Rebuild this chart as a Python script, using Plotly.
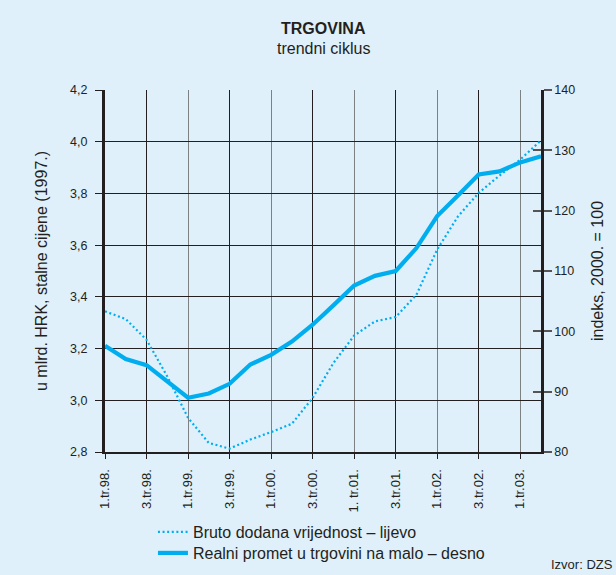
import plotly.graph_objects as go

# Quarters 1.tr.98 .. 2.tr.03
quarters = [f"{q}.tr.{y:02d}." for y in [98, 99, 0, 1, 2, 3] for q in [1, 2, 3, 4]][:22]
tick_labels = ["1.tr.98.", "3.tr.98.", "1.tr.99.", "3.tr.99.", "1.tr.00.", "3.tr.00.",
               "1. tr.01.", "3.tr.01.", "1.tr.02.", "3.tr.02.", "1.tr.03."]
tick_positions = [quarters[i] for i in range(0, 22, 2)]

bruto = [3.344, 3.314, 3.234, 3.092, 2.932, 2.835, 2.813, 2.848, 2.877, 2.909, 3.009,
         3.144, 3.250, 3.305, 3.322, 3.408, 3.583, 3.711, 3.802, 3.869, 3.931, 4.005]
promet = [97.6, 95.4, 94.4, 91.7, 89.0, 89.7, 91.3, 94.5, 96.1, 98.3, 101.1,
          104.3, 107.6, 109.2, 110.0, 113.8, 119.1, 122.5, 126.0, 126.5, 128.0, 129.0]

name_bruto = "Bruto dodana vrijednost – lijevo"
name_promet = "Realni promet u trgovini na malo – desno"

BG = "#dff0fa"
CYAN = "#00aeef"
INK = "#231f20"
FONT = "Liberation Sans, Arial, sans-serif"

fig = go.Figure()
fig.add_trace(go.Scatter(x=quarters, y=bruto, name=name_bruto, mode="lines",
                         line=dict(color=CYAN, width=2.2, dash="2px,2.6px"), yaxis="y",
                         legend="legend"))
fig.add_trace(go.Scatter(x=quarters, y=promet, name=name_promet, mode="lines",
                         line=dict(color=CYAN, width=4.2), yaxis="y2",
                         legend="legend2"))

third_q = [i for i, q in enumerate(quarters) if q.startswith("3.")]

leg_common = dict(xref="paper", x=0.11, xanchor="left", yref="container",
                  yanchor="middle", bgcolor="rgba(0,0,0,0)",
                  font=dict(size=16, color=INK), itemwidth=30)

fig.update_layout(
    width=616, height=575,
    margin=dict(l=105, r=75, t=90, b=123),
    paper_bgcolor=BG, plot_bgcolor=BG,
    separators=", ",
    font=dict(family=FONT, size=12.5, color=INK),
    showlegend=True,
    legend=dict(y=1 - 532 / 575, **leg_common),
    legend2=dict(y=1 - 553 / 575, **leg_common),
    xaxis=dict(type="category", categoryorder="array", categoryarray=quarters,
               range=[0, 21], tickvals=tick_positions, ticktext=tick_labels,
               tickangle=-90, showgrid=True, gridcolor="#7d8184", gridwidth=1.2,
               ticks="outside", ticklen=5, tickcolor=INK, tickwidth=1,
               showline=True, linecolor=INK, linewidth=2, zeroline=False,
               automargin=False,
               ticklabelstandoff=5, tickfont=dict(size=13, color=INK)),
    xaxis2=dict(type="linear", overlaying="x", range=[0, 21], tickvals=third_q,
                showticklabels=False, showgrid=True, gridcolor=INK, gridwidth=1,
                ticks="", showline=False, zeroline=False, side="bottom",
                automargin=False),
    yaxis=dict(range=[2.8, 4.2], dtick=0.2, tickformat=".1f", showgrid=True,
               gridcolor=INK, gridwidth=1, ticks="outside", ticklen=7,
               tickcolor=INK, showline=True, linecolor=INK, linewidth=3,
               zeroline=False, ticklabelstandoff=5, automargin=False,
               tickfont=dict(size=12.5, color=INK),
               title=dict(text="u mlrd. HRK, stalne cijene (1997.)",
                          font=dict(size=16, color=INK), standoff=19)),
    yaxis2=dict(range=[80, 140], dtick=10, overlaying="y", side="right",
                showgrid=False, ticks="outside", ticklen=8, tickcolor="#555",
                tickwidth=1.5, showline=True, linecolor=INK, linewidth=2.5,
                zeroline=False, automargin=False, tickfont=dict(size=12.5, color=INK),
                title=dict(text="indeks, 2000. = 100", font=dict(size=16, color=INK),
                           standoff=18)),
    yaxis3=dict(range=[80, 140], dtick=10, overlaying="y", side="right",
                showgrid=False, ticks="inside", ticklen=8, tickcolor="#555",
                tickwidth=1.5, showticklabels=False, showline=False, zeroline=False,
                automargin=False),
    annotations=[
        dict(text="<b>TRGOVINA</b>", xref="paper", yref="paper", x=0.5, y=1.171,
             xanchor="center", yanchor="middle", showarrow=False,
             font=dict(size=16, color=INK)),
        dict(text="trendni ciklus", xref="paper", yref="paper", x=0.5, y=1.116,
             xanchor="center", yanchor="middle", showarrow=False,
             font=dict(size=16, color=INK)),
        dict(text="Izvor: DZS", xref="paper", yref="paper", x=1.169, y=-0.312,
             xanchor="right", yanchor="middle", showarrow=False,
             font=dict(size=13, color=INK)),
    ],
)

# invisible helper traces so the overlay axes are drawn
fig.add_trace(go.Scatter(x=[0, 21], y=[3, 3], xaxis="x2", yaxis="y", mode="none",
                         showlegend=False, hoverinfo="skip"))
fig.add_trace(go.Scatter(x=quarters[:1], y=[100], xaxis="x", yaxis="y3", mode="none",
                         showlegend=False, hoverinfo="skip"))

fig.write_html("out.html", config={"displayModeBar": False},
               post_script="document.body.style.margin='0';document.body.style.background='%s';" % BG)
